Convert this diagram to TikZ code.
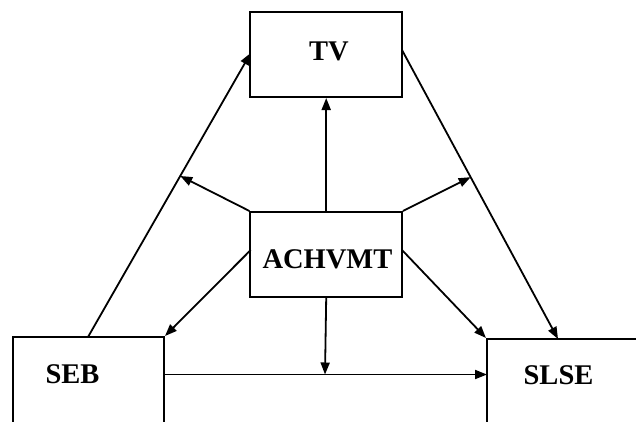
\documentclass[tikz,border=0pt]{standalone}
\usepackage{fontspec}
\setmainfont{Liberation Serif}
\usetikzlibrary{arrows.meta,calc}
\begin{document}
\begin{tikzpicture}[x=1pt,y=-1pt,
  box/.style={draw,line width=2pt,rectangle,inner sep=0pt},
  lab/.style={font=\fontsize{28.5}{30}\selectfont\bfseries,inner sep=0pt},
  con/.style={line width=1.8pt,-{Triangle[length=12pt,width=9pt]}},
  plain/.style={line width=1.8pt}]
\useasboundingbox (0,0) rectangle (636,421);
\fill[white] (0,0) rectangle (636,421);
\clip (0,0) rectangle (636,421);
% boxes
\node[box,minimum width=151.5pt,minimum height=85pt] (tv) at (326.2,54.5) {};
\node[lab] (tvt) at (329,51) {TV};
\node[box,minimum width=151.5pt,minimum height=85pt] (ach) at (326.2,254.5) {};
\node[lab] (acht) at (327.5,259) {ACHVMT};
\node[box,minimum width=151pt,minimum height=110pt] (seb) at (88.5,392) {};
\node[lab] (sebt) at (72.5,374) {SEB};
\node[box,minimum width=180pt,minimum height=110pt] (slse) at (577,394) {};
\node[lab] (slset) at (558.5,375) {SLSE};
% connector anchors
\coordinate (sebtop) at (88,337);
\coordinate (tvl) at (250.7,53);
\coordinate (tvr) at (402,50);
\coordinate (slsetop) at (558,339);
\coordinate (achl) at (250.7,250);
\coordinate (achr) at (402,250);
\coordinate (sebr) at (164,374.5);
\coordinate (slsel) at (487,374.5);
\coordinate (p1) at ($(sebtop)!0.567!(tvl)$);
\coordinate (p2) at ($(tvr)!0.44!(slsetop)$);
\coordinate (p3) at (325,374.5);
% connectors
\draw[con] (sebtop) -- (tvl);
\draw[con] (ach.north) -- (tv.south);
\draw[con] (ach.north west) -- (p1);
\draw[con] (ach.north east) -- (p2);
\draw[con] (tvr) -- (slsetop);
\draw[con] (achl) -- (seb.north east);
\draw[con] (achr) -- (slse.north west);
\draw[con] (ach.south) -- (p3);
\draw[con] (sebr) -- (slsel);
\end{tikzpicture}
\end{document}
